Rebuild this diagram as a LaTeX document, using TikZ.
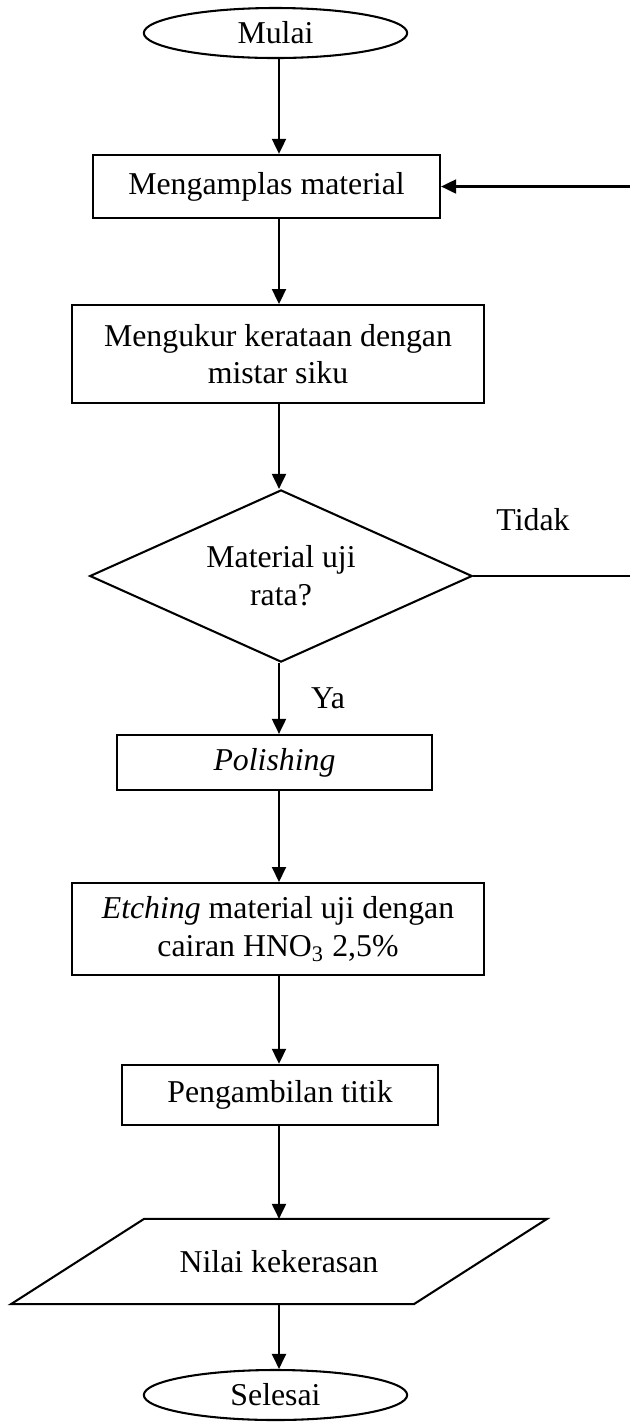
\documentclass[tikz,border=0pt]{standalone}
\usepackage{fontspec}
\setmainfont{Liberation Serif}
\usetikzlibrary{shapes.geometric,arrows.meta}
\tikzset{
  every node/.style={font=\fontsize{12.3}{14.6}\selectfont},
  terminal/.style={draw,ellipse,inner sep=0pt,minimum width=3.58cm,minimum height=0.68cm},
  process/.style={draw,rectangle,align=center,inner sep=0pt},
  decision/.style={draw,diamond,aspect=2.2,inner sep=0pt,align=center,minimum width=5.2cm,minimum height=2.34cm},
  iobox/.style={rectangle,inner sep=0pt,minimum width=5.45cm,minimum height=1.13cm},
  flow/.style={-{Triangle[length=5.8pt,width=5.4pt]}},
}

\begin{document}
\begin{tikzpicture}[x=0.0136cm,y=-0.0136cm,line width=0.8pt]
			%%%%% START %%%%%
			\path[use as bounding box,clip] (0,0) rectangle (630,1423);
			\coordinate (spine) at (279,0);
			\coordinate (loop) at (645,0);
			
			\node[terminal] (mulai) at (275.5,33) {Mulai};
			\node[process,minimum width=4.72cm,minimum height=0.86cm] (amplas) at (266.5,186.5) {Mengamplas material};
			\node[process,minimum width=5.6cm,minimum height=1.33cm] (ukur) at (278,354) {Mengukur kerataan dengan\\mistar siku};
			\node[decision] (dia) at (281,576) {Material uji\\rata?};
			\node[process,minimum width=4.28cm,minimum height=0.75cm] (polish) at (274.5,762.5) {\textit{Polishing}};
			\node[process,minimum width=5.6cm,minimum height=1.25cm] (etch) at (278,929) {\textit{Etching} material uji dengan\\cairan HNO\textsubscript{3} 2,5\%};
			\node[process,minimum width=4.3cm,minimum height=0.82cm] (ambil) at (280,1095) {Pengambilan titik};
			\node[iobox] (nilai) at (279,1261.5) {\raisebox{-0.11cm}{Nilai kekerasan}};
			\draw ([xshift=0.904cm]nilai.north west) -- ([xshift=0.904cm]nilai.north east)
			  -- ([xshift=-0.904cm]nilai.south east) -- ([xshift=-0.904cm]nilai.south west) -- cycle;
			\node[terminal] (selesai) at (275.5,1395) {Selesai};
			
			\node (tidak) at (533,520) {Tidak};
			\node (ya) at (328,698) {Ya};
			
			\draw[flow] (mulai.south -| spine) -- (amplas.north -| spine);
			\draw[flow] (amplas.south -| spine) -- (ukur.north -| spine);
			\draw[flow] (ukur.south -| spine) -- (dia.north -| spine);
			\draw[flow] (dia.south -| spine) -- (polish.north -| spine);
			\draw[flow] (polish.south -| spine) -- (etch.north -| spine);
			\draw[flow] (etch.south -| spine) -- (ambil.north -| spine);
			\draw[flow] (ambil.south -| spine) -- (nilai.north -| spine);
			\draw[flow] (nilai.south -| spine) -- (selesai.north -| spine);
			
			\draw[flow] (dia.east) -- (dia.east -| loop) |- (amplas.east);
			%%%%% END %%%%%
\end{tikzpicture}
\end{document}
